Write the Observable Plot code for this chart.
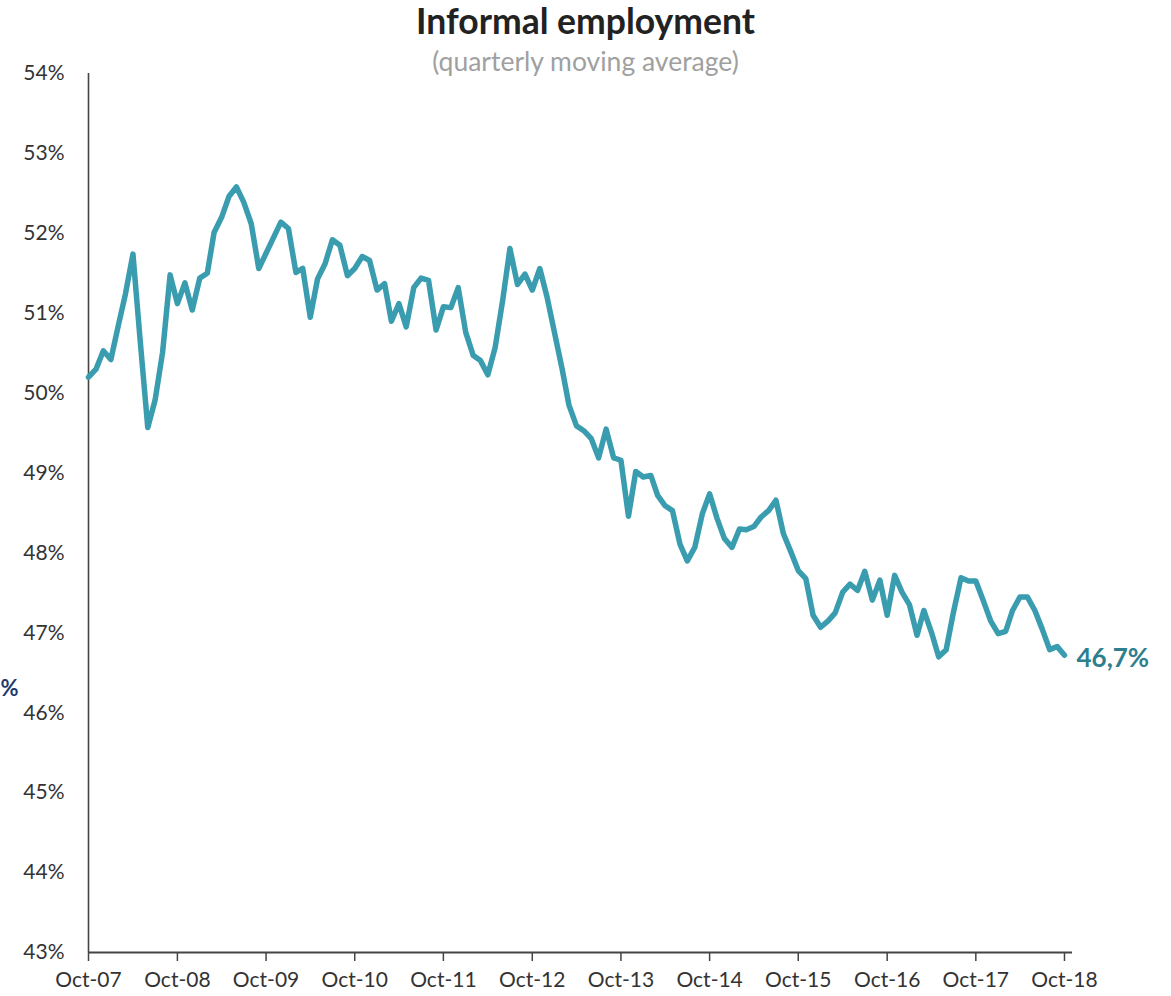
<!DOCTYPE html>
<html>
<head>
<meta charset="utf-8">
<script src="https://cdn.jsdelivr.net/npm/d3@7"></script>
<script src="https://cdn.jsdelivr.net/npm/@observablehq/plot@0.6"></script>
<style>
  body { margin: 0; background: #fff; font-family: Lato, "Open Sans", sans-serif; }
  #wrap { position: relative; width: 1171px; height: 996px; overflow: hidden; }
  #title { position: absolute; left: 0; width: 1171px; top: 0px; text-align: center;
           font-weight: 700; font-size: 35.5px; line-height: 1.2; color: #222; }
  #subtitle { position: absolute; left: 0; width: 1171px; top: 46px; text-align: center;
              font-size: 26.5px; line-height: 1.2; color: #a0a0a0; }
  #chart { position: absolute; left: 0; top: 0; }
</style>
</head>
<body>
<div id="wrap">
  <div id="chart"></div>
  <div id="title">Informal employment</div>
  <div id="subtitle">(quarterly moving average)</div>
</div>
<script>
// Monthly series, Oct-2007 .. Oct-2018 (quarterly moving average, %)
const startYear = 2007;
const startMonth = 9; // October (0-based)
const values = [
  50.20, 50.30, 50.53, 50.42, 50.85, 51.24, 51.74, 50.65, 49.57, 49.91, 50.51, 51.48,
  51.12, 51.38, 51.04, 51.44, 51.50, 52.01, 52.20, 52.46, 52.58, 52.39, 52.12, 51.56,
  51.75, 51.95, 52.14, 52.06, 51.51, 51.56, 50.95, 51.43, 51.62, 51.92, 51.85, 51.47,
  51.56, 51.71, 51.66, 51.29, 51.37, 50.90, 51.12, 50.83, 51.32, 51.44, 51.41, 50.79,
  51.08, 51.07, 51.32, 50.76, 50.47, 50.41, 50.23, 50.57, 51.16, 51.81, 51.36, 51.49,
  51.29, 51.56, 51.20, 50.75, 50.30, 49.85, 49.59, 49.53, 49.43, 49.19, 49.55, 49.19,
  49.16, 48.46, 49.02, 48.95, 48.97, 48.72, 48.59, 48.53, 48.11, 47.90, 48.07, 48.49,
  48.74, 48.43, 48.18, 48.07, 48.30, 48.29, 48.33, 48.45, 48.53, 48.66, 48.24, 48.01,
  47.78, 47.68, 47.22, 47.07, 47.15, 47.25, 47.51, 47.61, 47.53, 47.77, 47.41, 47.66,
  47.22, 47.72, 47.51, 47.35, 46.97, 47.28, 47.01, 46.70, 46.79, 47.26, 47.69, 47.65,
  47.65, 47.40, 47.15, 46.99, 47.02, 47.28, 47.45, 47.45, 47.28, 47.05, 46.79, 46.83,
  46.72
];
const yTicks = [43, 44, 45, 46, 47, 48, 49, 50, 51, 52, 53, 54];
const xTickYears = [2007, 2008, 2009, 2010, 2011, 2012, 2013, 2014, 2015, 2016, 2017, 2018];
const endLabel = "46,7%";
const strayLabel = "%";
const strayValue = 46.3;

const data = values.map((v, i) => ({ date: new Date(Date.UTC(startYear, startMonth + i, 1)), value: v }));
const last = data[data.length - 1];
const xTicks = xTickYears.map(y => new Date(Date.UTC(y, startMonth, 1)));

const chart = Plot.plot({
  width: 1171,
  height: 996,
  marginLeft: 88,
  marginRight: 99,
  marginTop: 73,
  marginBottom: 44,
  style: { fontFamily: "Lato, 'Open Sans', sans-serif", fontSize: "21px", color: "#333", background: "transparent" },
  x: { type: "utc", domain: [new Date(Date.UTC(2007, 9, 1)), new Date(Date.UTC(2018, 10, 3))] },
  y: { domain: [43, 54] },
  marks: [
    Plot.axisY({ ticks: yTicks, tickFormat: d => d + "%", tickSize: 0, tickPadding: 24, label: null, fill: "#333" }),
    Plot.axisX({ ticks: xTicks, tickFormat: d3.utcFormat("%b-%y"), tickSize: 9, tickPadding: 11, label: null, stroke: "#444", strokeWidth: 1.5, fill: "#333" }),
    Plot.ruleY([43], { stroke: "#444", strokeWidth: 2 }),
    Plot.ruleX([data[0].date], { y1: 43, y2: 54, stroke: "#444", strokeWidth: 1.6 }),
    Plot.line(data, { x: "date", y: "value", stroke: "#3A9CAF", strokeWidth: 5.5, strokeLinejoin: "round", strokeLinecap: "round" }),
    Plot.text([last], { x: "date", y: "value", text: () => endLabel, dx: 12, dy: 3, textAnchor: "start", fontWeight: 700, fontSize: 26, fill: "#2E7F8E" }),
    Plot.text([{ date: data[0].date, value: strayValue }], { x: "date", y: "value", text: () => strayLabel, dx: -88, textAnchor: "start", fontWeight: 700, fontSize: 22, fill: "#1F3A6E" })
  ]
});
document.getElementById("chart").appendChild(chart);
</script>
</body>
</html>
